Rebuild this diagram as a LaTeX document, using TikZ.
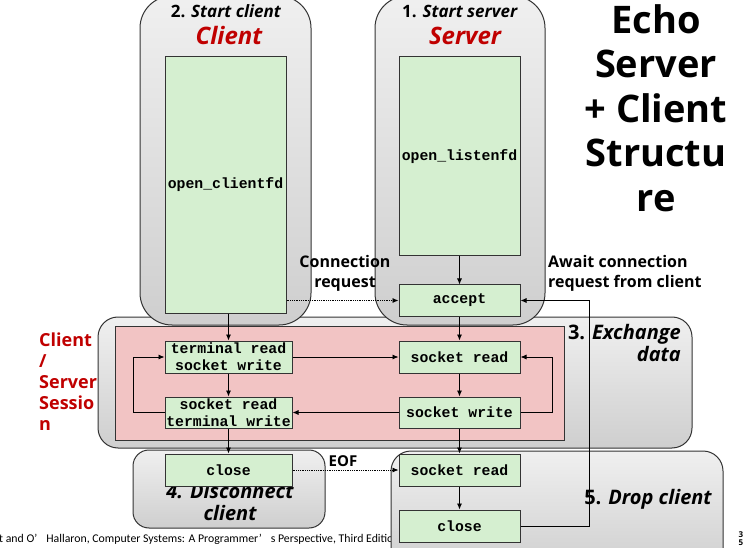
\documentclass[tikz,border=0pt]{standalone}
\usepackage{fontspec}
\setmainfont{Open Sans}
\newfontfamily\monof{Liberation Mono}
\newfontfamily\footf{Carlito}
\usetikzlibrary{arrows.meta}
\definecolor{gbox}{HTML}{D5EFD0}
\definecolor{pinkbg}{HTML}{F2C4C4}
\definecolor{redt}{HTML}{C00000}
\definecolor{edge}{HTML}{333333}
\tikzset{
  x=1pt,y=-1pt,
  container/.style={draw=edge, line width=1pt, top color=gray!12, bottom color=gray!38},
  fbox/.style={draw=edge, line width=1pt, fill=gbox, inner sep=0pt, align=center,
     font=\monof\bfseries\fontsize{14.8}{17}\selectfont},
  arr/.style={-{Latex[length=6pt,width=5pt]}, line width=0.8pt, black},
  dotarr/.style={arr, densely dotted},
  hd/.style={font=\bfseries\fontsize{17}{20}\selectfont, inner sep=0pt},
  rd/.style={font=\bfseries\itshape\fontsize{24}{26}\selectfont, text=redt, inner sep=0pt},
  lb/.style={font=\bfseries\fontsize{16}{20}\selectfont, inner sep=0pt, align=center},
}
\begin{document}
\begin{tikzpicture}
\useasboundingbox (0,0) rectangle (750,548);
% footer (under the drop box)
\node[anchor=west, inner sep=0pt, font=\footf\fontsize{11.8}{13}\selectfont] (foot) at (-1,539) {t and O’\hspace{9pt}Hallaron, Computer Systems: A Programmer’\hspace{9pt}s Perspective, Third Edition};
\node[inner sep=0pt, align=center, font=\bfseries\fontsize{8}{8}\selectfont] (pg) at (741,539) {3\\5};
% exchange container
\draw[container, rounded corners=20pt] (98,317) rectangle (692,448);
\draw[fill=pinkbg, draw=edge, line width=1pt] (115,326) rectangle (564,440);
% columns
\draw[container, rounded corners=32pt] (140,-4) rectangle (311,325);
\draw[container, rounded corners=32pt] (375,-4) rectangle (545,325);
% disconnect and drop containers
\draw[container, rounded corners=16pt] (133,450) rectangle (325,528);
\draw[container, rounded corners=20pt] (391,451) rectangle (723,570);
% titles
\node[hd] (t2) at (226,11) {2. \textit{Start client}};
\node[rd] (tc) at (229,36) {Client};
\node[hd] (t1) at (460,11) {1. \textit{Start server}};
\node[rd] (ts) at (465,36) {Server};
\node[inner sep=0pt, align=center, font=\bfseries\fontsize{38}{44.5}\selectfont] (title) at (656,108) {Echo\\Server\\+ Client\\Structu\\re};
\node[lb] (creq) at (345,273) {Connection\\request};
\node[lb, align=left, anchor=west] (await) at (548,273) {Await connection\\request from client};
\node[inner sep=0pt, align=right, anchor=north east, font=\bfseries\itshape\fontsize{20}{22}\selectfont] (xch) at (681,324) {\upshape 3. \itshape Exchange\\data};
\node[inner sep=0pt, align=center, font=\bfseries\itshape\fontsize{20}{22}\selectfont] (disc) at (230,502) {4. Disconnect\\client};
\node[inner sep=0pt, font=\bfseries\itshape\fontsize{20}{22}\selectfont] (drop) at (648,499) {\upshape 5. \itshape Drop client};
\node[inner sep=0pt, align=left, anchor=north west, text=redt, font=\bfseries\fontsize{18}{20.8}\selectfont] (sess) at (39,333) {Client\\/\\Server\\Sessio\\n};
\node[inner sep=0pt, font=\bfseries\fontsize{15}{16}\selectfont] (eof) at (343,461) {EOF};
% function boxes
\node[fbox, minimum width=121pt, minimum height=256pt] (ocfd) at (225.5,185) {open\_clientfd};
\node[fbox, minimum width=121pt, minimum height=199pt] (olfd) at (459.5,156.5) {open\_listenfd};
\node[fbox, minimum width=121pt, minimum height=31pt] (acc) at (459.5,300.5) {accept};
\node[fbox, minimum width=127pt, minimum height=32pt] (ctr) at (228.5,357) {terminal read\\socket write};
\node[fbox, minimum width=127pt, minimum height=31pt] (csr) at (228.5,412.5) {socket read\\terminal write};
\node[fbox, minimum width=127pt, minimum height=32pt] (cclose) at (228.5,470) {close};
\node[fbox, minimum width=121pt, minimum height=32pt] (ssr) at (459.5,357) {socket read};
\node[fbox, minimum width=121pt, minimum height=31pt] (ssw) at (459.5,412.5) {socket write};
\node[fbox, minimum width=121pt, minimum height=32pt] (dsr) at (459.5,470) {socket read};
\node[fbox, minimum width=121pt, minimum height=32pt] (dclose) at (459.5,526) {close};
% connectors
\draw[arr] (olfd.south) -- (acc.north);
\draw[arr] (acc.south) -- (ssr.north);
\draw[arr] (ocfd.south -| ctr.north) -- (ctr.north);
\draw[dotarr] (ocfd.east |- acc.west) -- (acc.west);
\draw[arr] (ctr.east) -- (ssr.west);
\draw[arr] (ssr.south) -- (ssw.north);
\draw[arr] (ssw.west) -- (csr.east);
\draw[arr] (ctr.south) -- (csr.north);
\draw[arr] (ssw.east) -- ++(32,0) |- (ssr.east);
\draw[arr] (csr.west) -- ++(-31,0) |- (ctr.west);
\draw[arr] (csr.south) -- (cclose.north);
\draw[dotarr] (cclose.east) -- (dsr.west);
\draw[arr] (ssw.south) -- (dsr.north);
\draw[arr] (dsr.south) -- (dclose.north);
\draw[arr] (dclose.east) -- ++(69,0) |- (acc.east);
\end{tikzpicture}
\end{document}
